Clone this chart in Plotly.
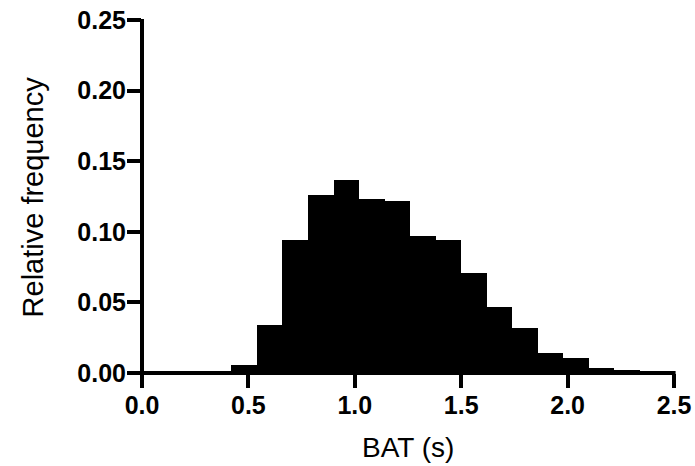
import plotly.graph_objects as go

# Histogram of BAT values: bin centres (s) and relative frequency per bin
bin_centers = [0.48, 0.60, 0.72, 0.84, 0.96, 1.08, 1.20, 1.32, 1.44, 1.56,
               1.68, 1.80, 1.92, 2.04, 2.16, 2.28, 2.40]
rel_freq = [0.006, 0.034, 0.094, 0.126, 0.137, 0.123, 0.122, 0.097, 0.094,
            0.071, 0.047, 0.032, 0.0145, 0.0103, 0.0033, 0.0018, 0.0008]
bin_width = 0.12

x_ticks = [0.0, 0.5, 1.0, 1.5, 2.0, 2.5]
y_ticks = [0.00, 0.05, 0.10, 0.15, 0.20, 0.25]

FONT = "Liberation Sans, Arial, sans-serif"

fig = go.Figure(
    go.Bar(
        x=bin_centers,
        y=rel_freq,
        width=bin_width,
        marker=dict(color="black", line=dict(width=0)),
    )
)

tick_font = dict(family=FONT, size=25, color="black", weight="bold")
tick_style = dict(
    ticks="outside",
    ticklen=14,
    tickwidth=4,
    tickcolor="black",
    showline=False,
    showgrid=False,
    zeroline=False,
    tickfont=tick_font,
    ticklabelstandoff=-4,
)

fig.update_xaxes(
    range=[0, 2.5],
    tickvals=x_ticks,
    ticktext=[f"{v:.1f}" for v in x_ticks],
    **tick_style,
)
fig.update_yaxes(
    range=[0, 0.25],
    tickvals=y_ticks,
    ticktext=[f"{v:.2f}" for v in y_ticks],
    **tick_style,
)

# Axis lines centred on the zero of each axis
axis_line = dict(color="black", width=4)
fig.add_shape(type="line", xref="paper", yref="paper", x0=0, x1=0, y0=-0.003, y1=1.003,
              line=axis_line, layer="above")
fig.add_shape(type="line", xref="paper", yref="paper", x0=-0.003, x1=1.003, y0=0, y1=0,
              line=axis_line, layer="above")

fig.add_annotation(text="Relative frequency", xref="paper", yref="paper",
                   x=-0.205, y=0.5, textangle=-90, showarrow=False,
                   xanchor="center", yanchor="middle",
                   font=dict(family=FONT, size=29, color="black"))
fig.add_annotation(text="BAT (s)", xref="paper", yref="paper",
                   x=0.5, y=-0.21, showarrow=False,
                   xanchor="center", yanchor="middle",
                   font=dict(family=FONT, size=28, color="black"))

fig.update_layout(
    width=695,
    height=466,
    margin=dict(l=142, r=21, t=20, b=93, autoexpand=False),
    plot_bgcolor="white",
    paper_bgcolor="white",
    showlegend=False,
    bargap=0,
)

fig.write_html("out.html")
